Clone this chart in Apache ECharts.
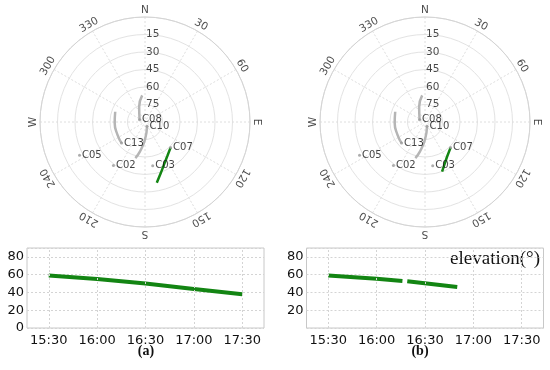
<!DOCTYPE html>
<html><head><meta charset="utf-8">
<script src="https://cdn.jsdelivr.net/npm/echarts@6/dist/echarts.min.js"></script>
<style>html,body{margin:0;padding:0;background:#fff}#c{width:550px;height:370px}</style>
</head><body><div id="c"></div>
<script>
// ---- data ----
const angleTicks = [0,30,60,90,120,150,180,210,240,270,300,330];
const angleLabels = ['N','30','60','E','120','150','S','210','240','W','300','330'];
const ringLabels = [15,30,45,60,75];
// satellites: name, azimuth (deg), elevation (deg) of the marked position
const satNames = ['C08','C10','C13','C05','C02','C03','C07'];
const satAz    = [292, 154, 228, 243, 216, 170, 135];
const satEl    = [ 85,  86,  63,  27,  44,  52,  59];
// gray tracks [azimuth, elevation]
const trackC08 = [[354,67],[339,76],[292,85]];
const trackC10 = [[154,86],[180,75],[190,64],[195,58]];
const trackC13 = [[289,63],[268,64],[245,64],[228,63]];
// green C07 tracks [azimuth, elevation]
const trackC07a = [[135,59],[147,55],[156,50],[163,44],[169,37]];
const trackC07b = [[135,59],[147,55],[154,51],[161,45]];
// elevation time series
const timeTicks = ['15:30','16:00','16:30','17:00','17:30'];
const timesA = ['15:30','16:00','16:30','17:00','17:30'];
const elevA  = [59, 55, 50, 44, 38];
const timesB = ['15:30','16:00','16:16','16:17','16:19','16:50'];
const elevB  = [59, 55.5, 53, null, 52.5, 46];

// ---- helpers ----
const toMin = s => { const p = s.split(':'); return (+p[0])*60 + (+p[1]); };
const fmt = v => { const h = Math.floor(v/60), m = Math.round(v%60); return h + ':' + (m<10?'0':'') + m; };
const polarData = arr => arr.map(p => [p[1], p[0]]); // [radius(elev), angle(az)]
const GREEN = '#138513', GRAY = '#b5b5b5';
const FONT = 'DejaVu Sans';

function polarSeries(pi, li, greenTrack) {
  const s = [];
  [trackC08, trackC10, trackC13].forEach(t => s.push({
    type:'line', coordinateSystem:'polar', polarIndex:pi, data:polarData(t),
    symbol:'none', smooth:true, lineStyle:{color:GRAY, width:2.5}, silent:true, z:3
  }));
  s.push({type:'line', coordinateSystem:'polar', polarIndex:pi, data:polarData(greenTrack),
    symbol:'none', lineStyle:{color:GREEN, width:2.5}, silent:true, z:4});
  s.push({type:'scatter', coordinateSystem:'polar', polarIndex:pi,
    data: satNames.map((n,i)=>({value:[satEl[i], satAz[i]], name:n})),
    symbolSize:3, itemStyle:{color:'#999'}, silent:true, z:5,
    label:{show:true, position:'right', distance:1, formatter:p=>p.name,
      fontFamily:FONT, fontSize:10, color:'#111'}});
  // angle labels on an outer (label-only) polar
  s.push({type:'scatter', coordinateSystem:'polar', polarIndex:li,
    data: angleTicks.map((a,i)=>({value:[1, a], name:angleLabels[i],
      label:{rotate:-a}})),
    symbolSize:0, silent:true, z:5,
    label:{show:true, position:'inside', formatter:p=>p.name, align:'center', verticalAlign:'middle',
      fontFamily:FONT, fontSize:10.5, color:'#1a1a1a'}});
  s.push({type:'scatter', coordinateSystem:'polar', polarIndex:pi,
    data: ringLabels.map(r=>({value:[r, 0], name:String(r)})),
    symbolSize:0, silent:true, z:5,
    label:{show:true, position:'right', distance:1, formatter:p=>p.name,
      fontFamily:FONT, fontSize:10.5, color:'#1a1a1a'}});
  return s;
}

function lineSeries(gi, times, elev) {
  return [{
    type:'line', xAxisIndex:gi, yAxisIndex:gi,
    data: times.map((t,i)=>[toMin(t), elev[i]]), connectNulls:false,
    symbol:'none', lineStyle:{color:GREEN, width:4}, silent:true, z:4,
    markLine:{silent:true, symbol:'none', label:{show:false},
      lineStyle:{color:'#d4d4d4', type:[2,2], width:1},
      data: timeTicks.map(t=>({xAxis:toMin(t)}))}
  }];
}

const angleAxis = i => ({polarIndex:i, type:'value', min:0, max:360, interval:30, startAngle:90, clockwise:true,
  axisLine:{lineStyle:{color:'#d4d4d4', width:1}}, axisTick:{show:false}, axisLabel:{show:false},
  splitLine:{lineStyle:{color:'#dedede', type:[2,2], width:1}}});
const radiusAxis = i => ({polarIndex:i, type:'value', min:0, max:90, interval:15, inverse:true,
  axisLine:{show:false}, axisTick:{show:false}, axisLabel:{show:false},
  splitLine:{lineStyle:{color:'#e3e3e3', width:1}}});
const hiddenAngle = i => ({polarIndex:i, type:'value', min:0, max:360, startAngle:90, clockwise:true,
  axisLine:{show:false}, axisTick:{show:false}, axisLabel:{show:false}, splitLine:{show:false}});
const hiddenRadius = i => ({polarIndex:i, type:'value', min:0, max:1,
  axisLine:{show:false}, axisTick:{show:false}, axisLabel:{show:false}, splitLine:{show:false}});

const xAxis = (gi) => ({gridIndex:gi, type:'value', min:916.5, max:1063.5,
  axisLine:{show:false}, axisTick:{show:false}, splitLine:{show:false},
  axisLabel:{customValues: timeTicks.map(toMin), formatter:v=>fmt(v), fontFamily:FONT, fontSize:13, color:'#111', margin:6}});
const yAxis = (gi, showMin) => ({gridIndex:gi, type:'value', min:0, max:90, interval:20,
  axisLine:{show:false}, axisTick:{show:false},
  splitLine:{lineStyle:{color:'#d4d4d4', type:[2,2], width:1}},
  axisLabel:{showMaxLabel:false, showMinLabel:showMin, fontFamily:FONT, fontSize:13, color:'#111', margin:3}});

const chart = echarts.init(document.getElementById('c'), null, {renderer:'canvas'});
chart.setOption({
  animation:false,
  backgroundColor:'#fff',
  polar:[
    {center:[145,122], radius:105}, {center:[425,122], radius:105},
    {center:[145,122], radius:112}, {center:[425,122], radius:112}
  ],
  angleAxis:[angleAxis(0), angleAxis(1), hiddenAngle(2), hiddenAngle(3)],
  radiusAxis:[radiusAxis(0), radiusAxis(1), hiddenRadius(2), hiddenRadius(3)],
  grid:[
    {left:27, top:248, width:237, height:80, show:true, borderColor:'#c8c8c8', borderWidth:1},
    {left:306.5, top:248, width:237, height:80, show:true, borderColor:'#c8c8c8', borderWidth:1}
  ],
  xAxis:[xAxis(0), xAxis(1)],
  yAxis:[yAxis(0,true), yAxis(1,false)],
  graphic:[
    {type:'text', x:146, y:351, style:{text:'(a)', font:'bold 14px "Liberation Serif"', fill:'#111', align:'center', verticalAlign:'middle'}},
    {type:'text', x:420, y:351, style:{text:'(b)', font:'bold 14px "Liberation Serif"', fill:'#111', align:'center', verticalAlign:'middle'}},
    {type:'text', x:540, y:259, style:{text:'elevation(°)', font:'19px "Liberation Serif"', fill:'#111', align:'right', verticalAlign:'middle'}}
  ],
  series:[].concat(
    polarSeries(0, 2, trackC07a), polarSeries(1, 3, trackC07b),
    lineSeries(0, timesA, elevA), lineSeries(1, timesB, elevB))
});
</script></body></html>
